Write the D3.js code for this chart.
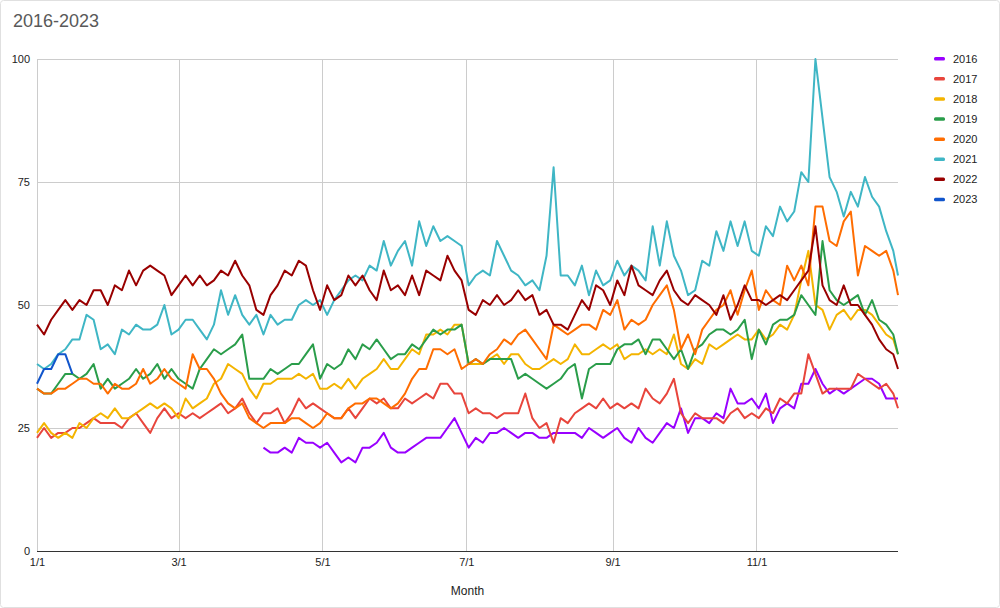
<!DOCTYPE html>
<html>
<head>
<meta charset="utf-8">
<script src="https://cdn.jsdelivr.net/npm/d3@7"></script>
<style>
  html, body { margin: 0; padding: 0; background: #fff; }
  svg { display: block; }
  text { font-family: "Liberation Sans", Arial, sans-serif; }
</style>
</head>
<body>
<svg id="chart" width="1000" height="608"></svg>
<script>
// ---- Data (sampled every 3 days, last point = Dec 31) ----
const seriesNames = ["2016", "2017", "2018", "2019", "2020", "2021", "2022", "2023"];
const seriesColors = ["#9900ff", "#e8453c", "#f4b400", "#2a9d4a", "#ff6d01", "#3fb6c5", "#990000", "#1155cc"];
const sampleDays = d3.range(0, 364, 3).concat([365]);
const tickDays = [0, 60, 121, 182, 244, 305];
const tickLabels = ["1/1", "3/1", "5/1", "7/1", "9/1", "11/1"];
const yTicks = [0, 25, 50, 75, 100];

const N = null;
const y2016 = [N,N,N,N,N,N,N,N,N,N,N,N,N,N,N,N,N,N,N,N,N,N,N,N,N,N,N,N,N,N,N,N,
  21,20,20,21,20,23,22,22,21,
  22,20,18,19,18,21,21,22,24,21,
  20,20,21,22,23,23,23,25,27,24,
  21,23,22,24,24,25,24,23,24,24,
  23,23,24,24,24,24,23,25,24,23,
  24,25,23,22,25,23,22,24,26,25,
  29,24,27,27,26,28,27,33,30,30,
  31,29,32,26,29,30,29,34,34,37,
  34,32,33,32,33,34,35,35,34,31,31,31];
const y2017 = [23,25,23,24,24,25,25,26,27,26,26,
  26,25,27,28,26,24,27,29,27,28,
  27,28,27,28,29,30,28,29,31,28,
  26,28,28,29,26,28,31,29,30,29,
  28,27,27,29,27,29,31,30,31,29,
  29,31,30,31,32,31,34,34,32,32,
  28,29,28,28,27,28,28,28,32,27,
  25,26,22,27,26,28,29,30,29,31,
  29,30,29,30,29,33,31,30,32,35,
  28,26,28,27,27,27,26,28,29,27,
  28,27,29,28,31,30,32,32,40,36,
  32,33,33,33,33,36,35,34,33,34,32,29];
const y2018 = [24,26,24,23,24,23,26,25,27,28,27,
  29,27,27,28,29,30,29,30,29,27,
  31,29,30,31,34,35,38,37,36,33,
  31,34,34,35,35,35,36,35,36,33,
  33,34,33,35,33,35,36,37,39,37,
  37,39,41,40,44,44,45,44,46,46,
  38,38,38,39,40,38,40,40,38,37,
  37,38,39,38,39,42,40,40,41,42,
  41,42,39,40,40,41,40,41,40,44,
  38,37,39,38,42,41,42,43,44,43,
  43,45,43,44,46,45,48,55,61,50,
  49,45,48,49,47,49,49,48,46,44,43,40];
const y2019 = [33,32,32,34,36,36,35,36,38,33,35,
  33,34,35,37,35,36,38,35,37,35,
  34,33,37,39,41,40,41,42,44,35,
  35,35,37,36,37,38,38,40,42,35,
  38,37,38,41,39,42,41,43,41,39,
  40,40,42,41,43,45,44,45,45,46,
  38,39,38,39,39,39,39,35,36,35,
  34,33,34,35,37,38,31,37,38,38,
  38,41,42,42,43,40,43,43,41,39,
  41,37,41,42,44,45,45,44,45,47,
  39,45,42,46,47,47,48,52,50,48,
  63,53,51,50,51,52,48,51,47,46,44,40];
const y2020 = [33,32,32,33,33,34,35,35,34,34,32,
  34,33,33,34,37,34,35,37,35,34,
  33,40,37,37,35,32,30,29,30,27,
  26,25,26,26,26,27,27,26,25,26,
  28,27,27,29,30,30,31,31,30,29,
  30,32,35,37,37,41,41,40,41,37,
  38,39,38,40,41,43,42,44,45,43,
  41,39,46,45,44,45,46,46,45,49,
  48,51,45,47,46,47,50,52,54,49,
  41,44,40,45,47,49,50,53,48,53,
  57,49,53,51,50,58,55,58,54,70,
  70,63,62,67,69,56,62,61,60,61,57,52];
const y2021 = [38,37,38,40,41,43,43,48,47,41,42,
  40,45,44,46,45,45,46,50,44,45,
  47,47,45,43,46,53,48,52,48,46,
  48,44,48,46,47,47,50,51,50,51,
  48,51,53,55,56,55,58,57,63,58,
  61,63,58,67,62,66,63,64,63,62,
  54,56,57,56,63,60,57,56,54,55,
  53,60,78,56,56,54,58,52,57,54,
  55,59,56,58,57,55,66,58,67,60,
  57,52,53,59,58,65,61,67,62,67,
  61,60,66,64,70,67,69,77,75,100,
  88,76,73,68,73,70,76,72,70,65,61,56];
const y2022 = [46,44,47,49,51,49,51,50,53,53,50,
  54,53,57,54,57,58,57,56,52,54,
  56,54,56,54,55,57,56,59,56,54,
  49,48,52,54,57,56,59,58,53,49,
  54,51,52,56,54,56,53,51,57,53,
  54,52,56,52,57,56,55,60,57,55,
  49,48,51,50,52,50,51,53,51,52,
  48,49,46,46,45,48,51,49,54,53,
  50,55,52,58,54,53,52,55,57,53,
  51,50,52,51,50,48,52,47,50,54,
  51,51,50,51,52,51,53,55,57,66,
  54,51,50,54,50,50,48,46,43,41,40,37];
const y2023 = [34,37,37,40,40,36];

const seriesValues = [y2016, y2017, y2018, y2019, y2020, y2021, y2022, y2023];

// ---- Layout ----
const svg = d3.select("#chart");
const plot = { left: 37, right: 898, top: 59, bottom: 551 };

svg.append("rect")
  .attr("x", 0.5).attr("y", 0.5).attr("width", 999).attr("height", 607)
  .attr("rx", 3).attr("fill", "#fff").attr("stroke", "#e0e0e0");

const x = d3.scaleLinear().domain([0, 365]).range([plot.left, plot.right]);
const y = d3.scaleLinear().domain([0, 100]).range([plot.bottom, plot.top]);

// Title
svg.append("text").attr("x", 13).attr("y", 27)
  .attr("font-size", 18).attr("fill", "#595959").text("2016-2023");

// Gridlines
const grid = svg.append("g");
grid.selectAll("line.h").data(yTicks.filter(d => d > 0)).join("line")
  .attr("x1", plot.left).attr("x2", plot.right)
  .attr("y1", d => y(d) + 0.5).attr("y2", d => y(d) + 0.5)
  .attr("stroke", "#cccccc").attr("stroke-width", 1);
grid.selectAll("line.v").data(tickDays).join("line")
  .attr("x1", d => Math.round(x(d)) + 0.5).attr("x2", d => Math.round(x(d)) + 0.5)
  .attr("y1", plot.top).attr("y2", plot.bottom)
  .attr("stroke", "#cccccc").attr("stroke-width", 1);

// Y axis labels
const yAxis = d3.axisLeft(y).tickValues(yTicks).tickSize(0).tickPadding(7);
const gy = svg.append("g").attr("transform", `translate(${plot.left},0)`).call(yAxis);
gy.select(".domain").remove();
gy.selectAll("text").attr("font-size", 11).attr("fill", "#222")
  .attr("font-family", "'Liberation Sans', Arial, sans-serif");

// X axis labels
const xAxis = d3.axisBottom(x).tickValues(tickDays)
  .tickFormat((d, i) => tickLabels[i]).tickSize(0).tickPadding(7);
const gx = svg.append("g").attr("transform", `translate(0,${plot.bottom})`).call(xAxis);
gx.select(".domain").remove();
gx.selectAll("text").attr("font-size", 11).attr("fill", "#222")
  .attr("font-family", "'Liberation Sans', Arial, sans-serif");

// Baseline
svg.append("line")
  .attr("x1", plot.left).attr("x2", plot.right)
  .attr("y1", y(0) + 0.5).attr("y2", y(0) + 0.5)
  .attr("stroke", "#333").attr("stroke-width", 1);

// Axis title
svg.append("text").attr("x", (plot.left + plot.right) / 2).attr("y", 595)
  .attr("text-anchor", "middle").attr("font-size", 12).attr("fill", "#222").text("Month");

// Lines
const line = d3.line()
  .defined(d => d.v != null)
  .x(d => x(d.day)).y(d => y(d.v));

const lines = svg.append("g");
seriesNames.forEach((name, si) => {
  const vals = seriesValues[si];
  const pts = vals.map((v, i) => ({ day: sampleDays[i], v: v }));
  lines.append("path")
    .datum(pts)
    .attr("fill", "none")
    .attr("stroke", seriesColors[si])
    .attr("stroke-width", 2)
    .attr("stroke-linejoin", "round")
    .attr("d", line);
});

// Legend
const legend = svg.append("g");
seriesNames.forEach((name, i) => {
  const cy = 58.5 + i * 20.1;
  legend.append("rect").attr("x", 934).attr("y", cy - 1.5)
    .attr("width", 11).attr("height", 3.5).attr("rx", 1.5)
    .attr("fill", seriesColors[i]);
  legend.append("text").attr("x", 953).attr("y", cy + 4)
    .attr("font-size", 11).attr("fill", "#222").text(name);
});
</script>
</body>
</html>
